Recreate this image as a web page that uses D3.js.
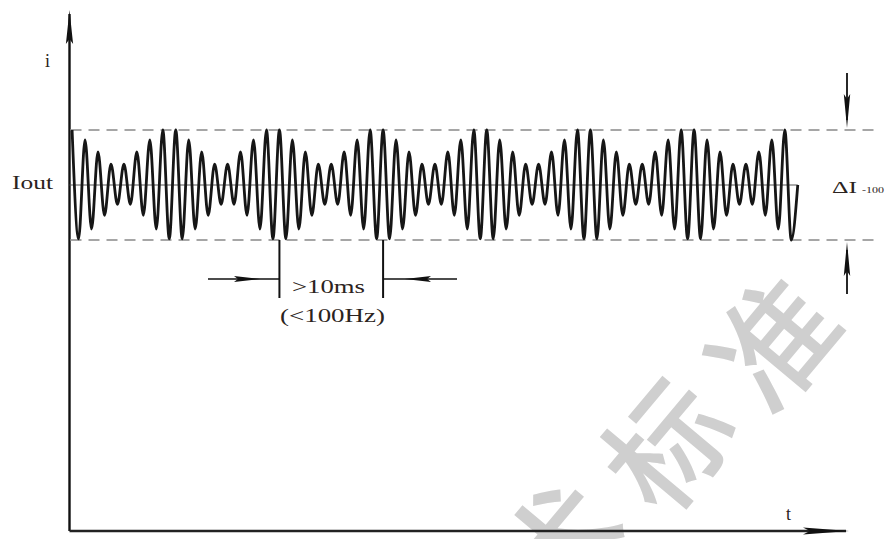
<!DOCTYPE html>
<html lang="en">
<head>
<meta charset="UTF-8">
<title>Iout ripple</title>
<style>
  body { margin: 0; background: #fff; }
  svg { display: block; font-family: "Liberation Serif", "Times New Roman", serif; }
</style>
</head>
<body>
<svg width="890" height="539"></svg>
<script src="https://cdn.jsdelivr.net/npm/d3@7/dist/d3.min.js"></script>
<script>
  // peak / trough of every carrier cycle, relative to Iout (band edges = +-1)
  var peaks = [
    1.00, 0.82, 0.60, 0.38, 0.38, 0.60, 0.82, 1.00,
    1.00, 0.82, 0.60, 0.38, 0.38, 0.60, 0.82, 1.00,
    1.00, 0.82, 0.60, 0.38, 0.38, 0.60, 0.82, 1.00,
    1.00, 0.82, 0.60, 0.38, 0.38, 0.60, 0.82, 1.00,
    1.00, 0.82, 0.60, 0.38, 0.38, 0.60, 0.82, 1.00,
    1.00, 0.82, 0.60, 0.38, 0.38, 0.60, 0.82, 1.00,
    1.00, 0.82, 0.60, 0.38, 0.38, 0.60, 0.82, 1.00
  ]
  var troughs = [
    -0.98, -0.80, -0.55, -0.35, -0.35, -0.55, -0.80, -0.98,
    -0.98, -0.80, -0.55, -0.35, -0.35, -0.55, -0.80, -0.98,
    -0.98, -0.80, -0.55, -0.35, -0.35, -0.55, -0.80, -0.98,
    -0.98, -0.80, -0.55, -0.35, -0.35, -0.55, -0.80, -0.98,
    -0.98, -0.80, -0.55, -0.35, -0.35, -0.55, -0.80, -0.98,
    -0.98, -0.80, -0.55, -0.35, -0.35, -0.55, -0.80, -0.98,
    -0.98, -0.80, -0.55, -0.35, -0.35, -0.55, -0.80, -1.00
  ]
  var cycleMs = 1.25        // carrier period
  var firstPeakMs = 0.25
  var endMs = 70.25         // wave stops back on Iout
  var bandLevels = [-1, 1]  // dashed lines = delta I band
  var markTimes = [20.25, 30.25] // the >10ms bracket
  var watermark = ["技", "术", "标", "准"]

  var svg = d3.select("svg")
  var textColor = "#2b2320"

  var x = d3.scaleLinear().domain([0, 75]).range([69.5, 847])
  var y = d3.scaleLinear().domain([-1, 1]).range([240, 130])
  var axisY = 531

  // watermark behind everything
  var wm = svg.append("g")
  watermark.forEach(function (ch, i) {
    var cx = 768 - (3 - i) * 106
    var cy = 338 + (3 - i) * 102
    wm.append("text")
      .attr("transform", "translate(" + cx + "," + cy + ") rotate(-50)")
      .attr("text-anchor", "middle")
      .attr("dominant-baseline", "central")
      .style("font-family", '"Noto Sans CJK SC", sans-serif')
      .style("font-size", "122px")
      .style("font-weight", 500)
      .attr("fill", "#cfcfcf")
      .text(ch)
  })

  function arrowHead(g, tx, ty, dx, dy, len, half) {
    var bx = tx - dx * len, by = ty - dy * len
    var px = -dy * half, py = dx * half
    g.append("path")
      .attr("d", "M" + tx + "," + ty + "L" + (bx + px) + "," + (by + py) +
        "L" + (tx - dx * len * 0.85) + "," + (ty - dy * len * 0.85) +
        "L" + (bx - px) + "," + (by - py) + "Z")
      .attr("fill", "#111")
  }

  var axes = svg.append("g")
  axes.append("line")
    .attr("x1", x(0)).attr("y1", axisY).attr("x2", x(0)).attr("y2", 14)
    .attr("stroke", "#111").attr("stroke-width", 2.4)
  axes.append("line")
    .attr("x1", x(0)).attr("y1", axisY).attr("x2", 846).attr("y2", axisY)
    .attr("stroke", "#222").attr("stroke-width", 2.4)
  arrowHead(axes, x(0), 10, 0, -1, 34, 3.6)
  arrowHead(axes, 849, axisY, 1, 0, 46, 3.4)

  // dashed band lines
  svg.append("g").selectAll("line")
    .data(bandLevels)
    .enter()
    .append("line")
    .attr("x1", x(0) + 1).attr("x2", 880)
    .attr("y1", function (d) { return y(d) })
    .attr("y2", function (d) { return y(d) })
    .attr("stroke", "#a6a6a6")
    .attr("stroke-width", 2)
    .attr("stroke-dasharray", "11,7")

  // build wave points: one peak and one trough per cycle
  var pts = []
  peaks.forEach(function (p, k) {
    pts.push({ t: firstPeakMs + k * cycleMs, v: p })
    pts.push({ t: firstPeakMs + (k + 0.5) * cycleMs, v: troughs[k] })
  })
  pts.push({ t: endMs, v: 0 })

  // Iout centre line
  svg.append("line")
    .attr("x1", x(0)).attr("x2", x(endMs))
    .attr("y1", y(0)).attr("y2", y(0))
    .attr("stroke", "#555").attr("stroke-width", 1)

  var line = d3.line()
    .x(function (d) { return x(d.t) })
    .y(function (d) { return y(d.v) })
    .curve(d3.curveMonotoneX)

  svg.append("path")
    .datum(pts)
    .attr("d", line)
    .attr("fill", "none")
    .attr("stroke", "#161616")
    .attr("stroke-width", 2.8)

  // right side delta I arrows
  var rx = 847
  svg.append("line").attr("x1", rx).attr("x2", rx).attr("y1", 73).attr("y2", 120)
    .attr("stroke", "#111").attr("stroke-width", 1.8)
  arrowHead(svg, rx, y(1) - 2, 0, 1, 34, 3.2)
  svg.append("line").attr("x1", rx).attr("x2", rx).attr("y1", 294).attr("y2", 250)
    .attr("stroke", "#111").attr("stroke-width", 1.8)
  arrowHead(svg, rx, y(-1) + 2, 0, -1, 34, 3.2)

  // >10ms bracket
  var br = svg.append("g")
  br.selectAll("line.tick")
    .data(markTimes)
    .enter()
    .append("line")
    .attr("class", "tick")
    .attr("x1", function (d) { return x(d) })
    .attr("x2", function (d) { return x(d) })
    .attr("y1", y(-1)).attr("y2", 298)
    .attr("stroke", "#111").attr("stroke-width", 2)
  var by = 279
  br.append("line").attr("x1", 208).attr("x2", x(markTimes[0])).attr("y1", by).attr("y2", by)
    .attr("stroke", "#111").attr("stroke-width", 1.6)
  br.append("line").attr("x1", x(markTimes[1])).attr("x2", 457).attr("y1", by).attr("y2", by)
    .attr("stroke", "#111").attr("stroke-width", 1.6)
  arrowHead(br, 260, by, 1, 0, 26, 3)
  arrowHead(br, 405, by, -1, 0, 26, 3)

  // labels
  function label(txt, lx, ly, size, len) {
    var t = svg.append("text")
      .attr("x", lx).attr("y", ly)
      .attr("fill", textColor)
      .style("font-size", size + "px")
      .text(txt)
    if (len) t.attr("textLength", len).attr("lengthAdjust", "spacingAndGlyphs")
    return t
  }
  label("i", 45, 67, 18)
  label("Iout", 12, 189, 18, 41)
  label("ΔI", 832, 193, 17, 25)
  label("-100", 862, 193, 9, 22)
  label(">10ms", 292, 293, 18, 73)
  label("(<100Hz)", 280, 322, 18, 105)
  label("t", 786, 520, 18)
</script>
</body>
</html>
